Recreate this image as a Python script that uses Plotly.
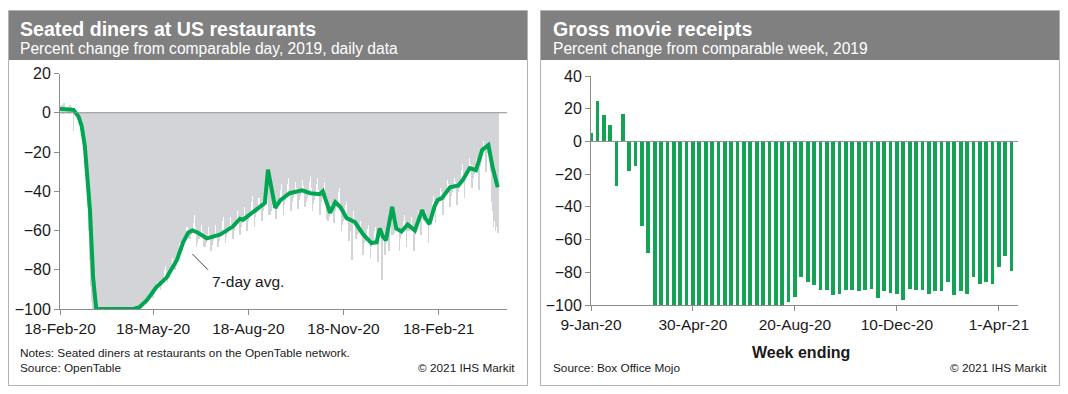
import plotly.graph_objects as go
import pandas as pd

# ---------------- Left chart: Seated diners (daily, % change vs 2019) ----------------
diner_start = "2020-02-18"
diner_daily = [
    3, 2, 4, 1, 5, 2, 0,
    2, 3, 1, 4, 3, 0, -9,
    1, -1, -2, 0, -4, -6, -8,
    -10, -14, -18, -24, -30, -38, -48,
    -60, -75, -88, -96, -100, -100, -100,
    -100, -100, -100, -100, -100, -100, -100,
    -100, -100, -100, -100, -100, -100, -100,
    -100, -100, -100, -100, -100, -100, -100,
    -100, -100, -100, -100, -100, -100, -100,
    -100, -100, -100, -100, -100, -100, -100,
    -100, -100, -100, -99, -99, -98, -98,
    -98, -97, -97, -96, -95, -96, -97,
    -96, -95, -93, -92, -90, -92, -94,
    -92, -90, -88, -86, -84, -87, -90,
    -88, -86, -84, -80, -78, -82, -86,
    -84, -80, -78, -74, -72, -76, -80,
    -78, -74, -71, -66, -63, -66, -70,
    -68, -65, -62, -58, -55, -58, -64,
    -64, -62, -60, -56, -52, -58, -68,
    -66, -64, -62, -57, -55, -60, -68,
    -68, -66, -63, -58, -56, -62, -70,
    -67, -65, -62, -57, -55, -61, -68,
    -65, -63, -60, -55, -53, -59, -66,
    -63, -61, -58, -53, -51, -57, -64,
    -60, -58, -55, -50, -48, -54, -62,
    -58, -56, -53, -48, -45, -52, -60,
    -55, -53, -50, -45, -42, -49, -58,
    -53, -51, -48, -43, -40, -46, -55,
    -50, -48, -45, -38, -14, -30, -52,
    -52, -50, -46, -41, -38, -44, -54,
    -49, -47, -44, -39, -36, -42, -52,
    -46, -44, -41, -36, -33, -40, -50,
    -45, -43, -40, -35, -32, -38, -49,
    -44, -42, -39, -34, -31, -37, -48,
    -45, -43, -40, -35, -32, -38, -50,
    -46, -44, -41, -36, -33, -39, -52,
    -45, -43, -40, -35, -34, -42, -54,
    -55, -53, -51, -46, -42, -47, -56,
    -50, -48, -45, -40, -38, -47, -60,
    -57, -55, -52, -47, -45, -53, -65,
    -58, -60, -75, -50, -48, -54, -64,
    -62, -61, -60, -55, -53, -61, -72,
    -66, -65, -64, -59, -57, -65, -74,
    -68, -67, -66, -60, -58, -66, -76,
    -62, -58, -60, -85, -58, -62, -72,
    -66, -64, -60, -70, -56, -58, -62,
    -62, -61, -59, -54, -52, -58, -70,
    -64, -62, -60, -55, -52, -58, -68,
    -60, -60, -58, -53, -51, -58, -70,
    -62, -60, -56, -50, -47, -52, -62,
    -52, -54, -55, -50, -48, -55, -66,
    -58, -55, -52, -45, -42, -46, -56,
    -48, -46, -43, -38, -35, -40, -52,
    -44, -42, -39, -34, -31, -36, -48,
    -42, -40, -38, -33, -30, -35, -47,
    -40, -38, -35, -29, -26, -31, -43,
    -34, -32, -29, -23, -20, -26, -38,
    -33, -31, -29, -23, -21, -27, -39,
    -27, -25, -21, -14, -11, -16, -30,
    -20, -18, -16, -30, -45, -50, -58,
    -55, -60, -58, -61,
]

avg_dates = [
    "2020-02-18", "2020-03-02", "2020-03-07", "2020-03-10", "2020-03-13",
    "2020-03-16", "2020-03-18", "2020-03-21", "2020-03-24", "2020-04-29",
    "2020-05-05", "2020-05-12", "2020-05-21", "2020-05-31", "2020-06-10",
    "2020-06-16", "2020-06-21", "2020-06-25", "2020-06-30", "2020-07-09",
    "2020-07-22", "2020-08-03", "2020-08-10", "2020-08-13", "2020-08-29",
    "2020-09-03", "2020-09-06", "2020-09-13", "2020-09-18", "2020-09-27",
    "2020-10-09", "2020-10-17", "2020-10-26", "2020-10-29", "2020-11-05",
    "2020-11-10", "2020-11-15", "2020-11-21", "2020-11-29", "2020-12-07",
    "2020-12-15", "2020-12-20", "2020-12-23", "2020-12-26", "2020-12-29",
    "2021-01-04", "2021-01-08", "2021-01-13", "2021-01-19", "2021-01-26",
    "2021-02-02", "2021-02-05", "2021-02-09", "2021-02-14", "2021-02-17",
    "2021-02-21", "2021-03-01", "2021-03-09", "2021-03-13", "2021-03-20",
    "2021-03-26", "2021-04-01", "2021-04-07", "2021-04-11", "2021-04-16",
]
avg_values = [
    2, 1.5, -2, -7, -17,
    -35, -50, -84, -100, -100,
    -99, -95.5, -89, -84, -75,
    -66, -61, -60, -61, -64,
    -62, -58, -54, -54.5, -48,
    -46, -29, -48.5, -44.5, -41,
    -39.5, -41, -41.5, -40, -51,
    -45.5, -48, -53.7, -55.7, -62,
    -66.4, -66, -59, -63, -65,
    -48, -59, -60.5, -57, -60,
    -49.6, -53.7, -56.7, -47.6, -44.5,
    -43.5, -38, -37, -34.4, -28.2,
    -29.3, -19, -16.5, -27.5, -38,
]
diner_ticks = ["2020-02-18", "2020-05-18", "2020-08-18", "2020-11-18", "2021-02-18"]
diner_yticks = [20, 0, -20, -40, -60, -80, -100]

# ---------------- Right chart: Gross movie receipts (weekly, % change vs 2019) ----------------
movie_start = "2020-01-09"
movie_pct = [
    5, 25, 16, 10, -27, 16.5, -18, -15, -52, -68,
    -100, -100, -100, -100, -100, -100, -100, -100, -100, -100,
    -100, -100, -100, -100, -100, -100, -100, -100, -100, -100,
    -100, -98, -95, -83, -86, -88, -91, -91, -94, -93,
    -91, -91, -91.5, -91, -90, -95.5, -91.5, -92.5, -93, -97,
    -90.5, -91, -91, -93, -91.5, -91.5, -86, -94, -91.5, -93.5,
    -83, -87, -86, -87, -77, -70, -79.5,
]
movie_ticks = ["2020-01-09", "2020-04-30", "2020-08-20", "2020-12-10", "2021-04-01"]
movie_yticks = [40, 20, 0, -20, -40, -60, -80, -100]

# ---------------- styling ----------------
W, H = 1068, 394
FONT = "Arial, 'Liberation Sans', sans-serif"
GREEN_LINE = "#00a651"
GREEN_BAR = "#13a354"
GRAY_BAR = "#d3d4d8"
AXIS = "#8c8c8c"
HEADER = "#808080"
BORDER = "#b3b3b3"
TXT = "#1a1a1a"
DAY_MS = 86400000


def px(x):
    return x / W


def py(y):
    return 1 - y / H


diner_dates = pd.date_range(diner_start, periods=len(diner_daily), freq="D")
movie_dates = pd.date_range(movie_start, periods=len(movie_pct), freq="7D")

fig = go.Figure()
fig.add_trace(go.Bar(x=diner_dates, y=diner_daily, width=0.7 * DAY_MS,
                     marker=dict(color=GRAY_BAR, line=dict(width=0)),
                     xaxis="x", yaxis="y", showlegend=False, hoverinfo="skip"))
fig.add_trace(go.Scatter(x=pd.to_datetime(avg_dates), y=avg_values, mode="lines",
                         line=dict(color=GREEN_LINE, width=4),
                         xaxis="x", yaxis="y", showlegend=False))
fig.add_trace(go.Bar(x=movie_dates, y=movie_pct, width=4.1 * DAY_MS,
                     marker=dict(color=GREEN_BAR, line=dict(width=0)),
                     xaxis="x2", yaxis="y2", showlegend=False))

axis_common = dict(showgrid=False, zeroline=False, showline=True, linecolor=AXIS,
                   linewidth=1, ticks="outside", ticklen=5, tickcolor=AXIS, tickwidth=1,
                   automargin=False)
xfont = dict(family=FONT, size=15.5, color=TXT)
yfont = dict(family=FONT, size=16, color=TXT)

fig.update_layout(
    width=W, height=H, autosize=False,
    margin=dict(l=0, r=0, t=0, b=0, pad=0, autoexpand=False),
    paper_bgcolor="white", plot_bgcolor="white", bargap=0,
    font=dict(family=FONT, color=TXT),
    xaxis=dict(domain=[px(60), px(507)], type="date",
               range=["2020-02-18", "2021-04-25"], tickfont=xfont,
               tickvals=diner_ticks, tickformat="%d-%b-%y", anchor="y", **axis_common),
    yaxis=dict(domain=[py(309), py(73.5)], range=[-100, 20], tickfont=yfont,
               tickvals=diner_yticks, anchor="x", **axis_common),
    xaxis2=dict(domain=[px(591), px(1018)], type="date",
                range=["2020-01-09", "2021-04-22"], tickfont=xfont,
                tickvals=movie_ticks, tickformat="%-d-%b-%y", anchor="y2", **axis_common),
    yaxis2=dict(domain=[py(305), py(76)], range=[-100, 40], tickfont=yfont,
                tickvals=movie_yticks, anchor="x2", **axis_common),
)

shapes = []
for (x0, x1) in [(8.5, 527.5), (540.5, 1059.5)]:
    shapes.append(dict(type="rect", xref="paper", yref="paper",
                       x0=px(x0), x1=px(x1), y0=py(385.5), y1=py(10.5),
                       line=dict(color=BORDER, width=1), fillcolor="rgba(0,0,0,0)", layer="below"))
    shapes.append(dict(type="rect", xref="paper", yref="paper",
                       x0=px(x0 + 0.5), x1=px(x1 - 0.5), y0=py(60), y1=py(11),
                       line=dict(width=0), fillcolor=HEADER, layer="below"))
# zero lines above the bars
shapes.append(dict(type="line", xref="x domain", yref="y", x0=0, x1=1, y0=0, y1=0,
                   line=dict(color=AXIS, width=1), layer="above"))
shapes.append(dict(type="line", xref="x2 domain", yref="y2", x0=0, x1=1, y0=0, y1=0,
                   line=dict(color=AXIS, width=1), layer="above"))
# leader line for the 7-day avg label
shapes.append(dict(type="line", xref="x", yref="y", x0="2020-06-25", y0=-72,
                   x1="2020-07-10", y1=-80, line=dict(color="#404040", width=1)))
fig.update_layout(shapes=shapes)

ann = []


def text(x, y, s, size, bold=False, color=TXT, xanchor="left"):
    ann.append(dict(xref="paper", yref="paper", x=px(x), y=py(y), text=(f"<b>{s}</b>" if bold else s),
                    showarrow=False, xanchor=xanchor, yanchor="middle",
                    font=dict(family=FONT, size=size, color=color)))


text(18, 29, "Seated diners at US restaurants", 19.6, bold=True, color="white")
text(18, 48, "Percent change from comparable day, 2019, daily data", 15.6, color="white")
text(551, 29, "Gross movie receipts", 19.6, bold=True, color="white")
text(551, 48, "Percent change from comparable week, 2019", 15.6, color="white")
text(18, 353, "Notes: Seated diners at restaurants on the OpenTable network.", 11.8)
text(18, 368, "Source: OpenTable", 11.8)
text(517, 368, "\u00a9 2021 IHS Markit", 11.8, xanchor="right")
text(551, 368, "Source: Box Office Mojo", 11.8)
text(1049, 368, "\u00a9 2021 IHS Markit", 11.8, xanchor="right")
text(801, 352, "Week ending", 16, bold=True, xanchor="center")
ann.append(dict(xref="x", yref="y", x="2020-07-12", y=-86, text="7-day avg.", showarrow=False,
                xanchor="left", yanchor="middle", font=dict(family=FONT, size=15.5, color=TXT)))
fig.update_layout(annotations=ann)

fig.write_html("out.html", config={"displayModeBar": False},
               post_script="document.body.style.margin='0px';document.body.style.overflow='hidden';")
